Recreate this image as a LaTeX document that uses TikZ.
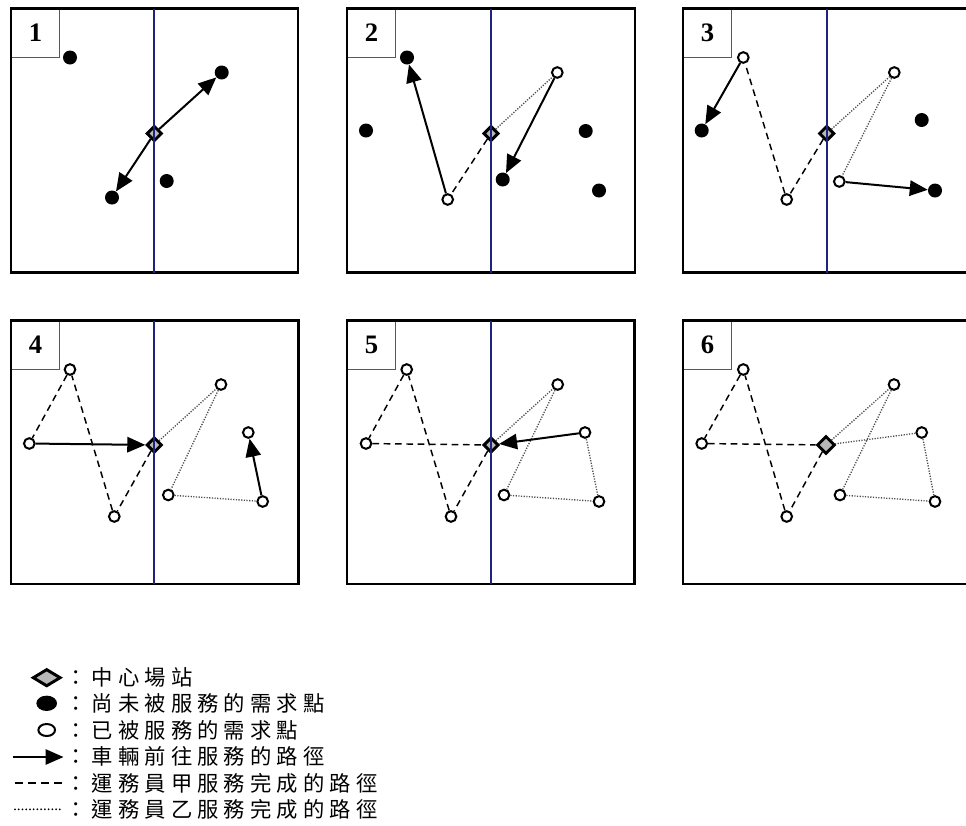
\documentclass[tikz,border=0pt]{standalone}
\usepackage{fontspec}
\setmainfont{Liberation Serif}
\newfontfamily\cjk[LetterSpace=24]{Noto Sans CJK TC}
\usetikzlibrary{arrows.meta,shapes.geometric}
\definecolor{divblue}{RGB}{32,34,130}

\begin{document}
\begin{tikzpicture}[
    x=0.75pt, y=-0.75pt,
    frame/.style={line width=1.8pt},
    divider/.style={draw=divblue, line width=1.4pt},
    tag/.style={draw=black!65, fill=white, line width=0.7pt, minimum size=36pt,
        inner sep=0pt, anchor=north west, font=\fontsize{20}{24}\selectfont\bfseries},
    depot/.style={diamond, draw, fill=black!28, line width=2.2pt, inner sep=0pt, minimum size=11.5pt},
    todo/.style={circle, fill=black, inner sep=0pt, minimum size=10.5pt},
    done/.style={circle, draw, fill=white, line width=1.5pt, inner sep=0pt, minimum size=8pt},
    go/.style={line width=1.5pt, -{Triangle[length=13.5pt, width=11.5pt]}},
    tripA/.style={line width=1.1pt, dash pattern=on 5pt off 3.5pt},
    tripB/.style={line width=1pt, black!70, dash pattern=on 0.9pt off 1.1pt},
    key/.style={font=\cjk\fontsize{16}{19}\selectfont, inner sep=0pt, anchor=west}
]
\useasboundingbox (0,0) rectangle (966,825);

    % --- Panel 1 ---
    \begin{scope}[shift={(11,8.5)}]
        \node[tag] (T1) at (0,0) {1};
        \draw[frame] (0,0) rectangle (287,264);

        \node[todo]  (A1) at (59,49) {};
        \node[todo]  (B1) at (210.7,64) {};
        \node[depot] (S1) at (143.3,125) {};
        \node[todo]  (C1) at (155.7,172.5) {};
        \node[todo]  (D1) at (101,189) {};

        \draw[go] (S1) -- (B1);
        \draw[go] (S1) -- (D1);

        \draw[divider] (143.3,0) -- (143.3,264);
    \end{scope}

    % --- Panel 2 ---
    \begin{scope}[shift={(347,8.5)}]
        \node[tag] (T2) at (0,0) {2};
        \draw[frame] (0,0) rectangle (288,264);

        \node[todo]  (A2) at (60,49) {};
        \node[todo]  (E2) at (19,122) {};
        \node[depot] (S2) at (144,125) {};
        \node[done]  (D2) at (100.7,191) {};
        \node[done]  (B2) at (210.3,64) {};
        \node[todo]  (C2) at (155.7,171) {};
        \node[todo]  (F2) at (238.7,122.5) {};
        \node[todo]  (G2) at (252,182) {};

        \draw[tripA] (S2) -- (D2);
        \draw[tripB] (S2) -- (B2);
        \draw[go] (D2) -- (A2);
        \draw[go] (B2) -- (C2);

        \draw[divider] (144,0) -- (144,264);
    \end{scope}

    % --- Panel 3 (cut off at the right) ---
    \begin{scope}[shift={(683,8.5)}]
        \node[tag] (T3) at (0,0) {3};
        \draw[frame] (283,0) -- (0,0) -- (0,264) -- (283,264);

        \node[done]  (A3) at (60.3,49) {};
        \node[todo]  (E3) at (18.7,122) {};
        \node[done]  (D3) at (103.7,191) {};
        \node[depot] (S3) at (143.7,125) {};
        \node[done]  (B3) at (211.3,64) {};
        \node[todo]  (F3) at (238.7,111.5) {};
        \node[done]  (C3) at (156.3,173) {};
        \node[todo]  (G3) at (252,182) {};

        \draw[tripA] (S3) -- (D3) -- (A3);
        \draw[tripB] (S3) -- (B3) -- (C3);
        \draw[go] (A3) -- (E3);
        \draw[go] (C3) -- (G3);

        \draw[divider] (143.7,0) -- (143.7,264);
    \end{scope}

    % --- Panel 4 ---
    \begin{scope}[shift={(11,320.5)}]
        \node[tag] (T4) at (0,0) {4};
        \draw[frame] (0,0) rectangle (287.5,263.5);

        \node[done]  (A4) at (59,49) {};
        \node[done]  (E4) at (18.3,123) {};
        \node[depot] (S4) at (143.3,124.5) {};
        \node[done]  (D4) at (103.3,196) {};
        \node[done]  (B4) at (210,64) {};
        \node[done]  (F4) at (237.3,112) {};
        \node[done]  (C4) at (157.3,174.5) {};
        \node[done]  (G4) at (251.7,181) {};

        \draw[tripA] (S4) -- (D4) -- (A4) -- (E4);
        \draw[tripB] (S4) -- (B4) -- (C4) -- (G4);
        \draw[go] (E4) -- (S4);
        \draw[go] (G4) -- (F4);

        \draw[divider] (143.3,0) -- (143.3,263.5);
    \end{scope}

    % --- Panel 5 ---
    \begin{scope}[shift={(347,320.5)}]
        \node[tag] (T5) at (0,0) {5};
        \draw[frame] (0,0) rectangle (287.5,263.5);

        \node[done]  (A5) at (59.7,49) {};
        \node[done]  (E5) at (19,123) {};
        \node[depot] (S5) at (144,124.5) {};
        \node[done]  (D5) at (104,196) {};
        \node[done]  (B5) at (210.7,64) {};
        \node[done]  (F5) at (238,112) {};
        \node[done]  (C5) at (157,174.5) {};
        \node[done]  (G5) at (252,181) {};

        \draw[tripA] (S5) -- (D5) -- (A5) -- (E5) -- (S5);
        \draw[tripB] (S5) -- (B5) -- (C5) -- (G5) -- (F5);
        \draw[go] (F5) -- (S5);

        \draw[divider] (144,0) -- (144,263.5);
    \end{scope}

    % --- Panel 6 (cut off at the right) ---
    \begin{scope}[shift={(683,320.5)}]
        \node[tag] (T6) at (0,0) {6};
        \draw[frame] (283,0) -- (0,0) -- (0,263.5) -- (283,263.5);

        \node[done]  (A6) at (60.3,49) {};
        \node[done]  (E6) at (18.7,123) {};
        \node[done]  (D6) at (103.7,196) {};
        \node[depot, minimum size=13.5pt] (S6) at (143,124.5) {};
        \node[done]  (B6) at (211,64) {};
        \node[done]  (F6) at (238.7,112) {};
        \node[done]  (C6) at (157,174.5) {};
        \node[done]  (G6) at (252,181) {};

        \draw[tripA] (S6) -- (D6) -- (A6) -- (E6) -- (S6);
        \draw[tripB] (S6) -- (B6) -- (C6) -- (G6) -- (F6) -- (S6);
    \end{scope}

    % --- Legend ---
    \node[depot, minimum width=21pt, minimum height=13pt] (L1) at (46.7,677.7) {};
    \node[todo, ellipse, minimum width=15.5pt, minimum height=11.5pt] (L2) at (46.7,703.3) {};
    \node[done, ellipse, minimum width=12.5pt, minimum height=9pt] (L3) at (46.7,730) {};
    \coordinate (L4a) at (13,757);
    \coordinate (L4b) at (63.5,757);
    \draw[go] (L4a) -- (L4b);
    \coordinate (L5a) at (15,783.3);
    \coordinate (L5b) at (62,783.3);
    \draw[tripA, line width=1.4pt, dash pattern=on 6pt off 3.8pt] (L5a) -- (L5b);
    \coordinate (L6a) at (15,809.3);
    \coordinate (L6b) at (63,809.3);
    \draw[black, line width=1.5pt, line cap=round, dash pattern=on 0pt off 2.8pt] (L6a) -- (L6b);

    \node[key] (K1) at (65,677.7) {：中心場站};
    \node[key] (K2) at (65,703.3) {：尚未被服務的需求點};
    \node[key] (K3) at (65,730) {：已被服務的需求點};
    \node[key] (K4) at (65,756.7) {：車輛前往服務的路徑};
    \node[key] (K5) at (65,783.3) {：運務員甲服務完成的路徑};
    \node[key] (K6) at (65,809.3) {：運務員乙服務完成的路徑};

\end{tikzpicture}
\end{document}
